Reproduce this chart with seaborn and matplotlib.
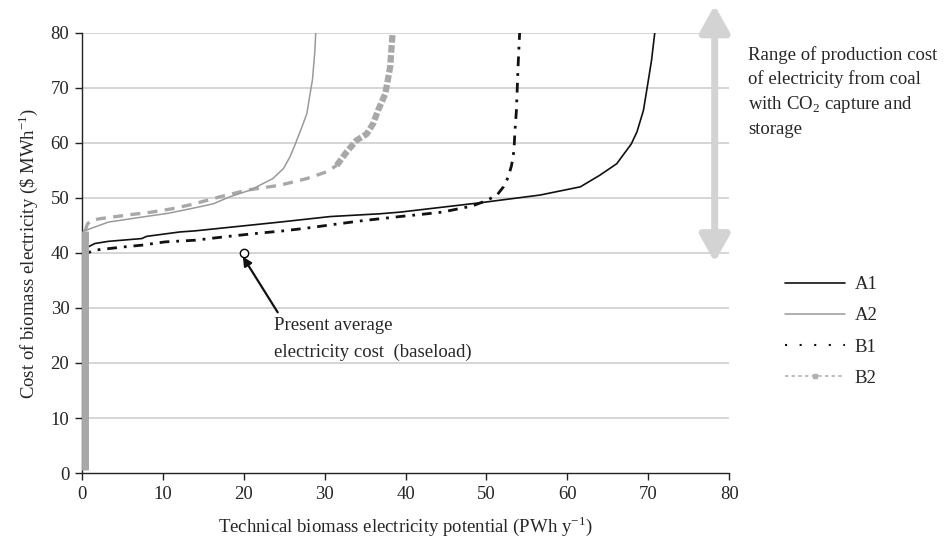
import numpy as np
import seaborn as sns
import matplotlib.pyplot as plt
from matplotlib.lines import Line2D

# supply curves (x: PWh/y, y: $/MWh)
a1_x = [0, 0.3, 0.8, 1.6, 3.3, 7.4, 8.0, 12.1, 14.0, 24.5, 30.7, 36.8, 39.3, 49.2, 51.3,
        56.6, 61.6, 64.0, 66.1, 67.9, 68.6, 69.4, 69.8, 70.4, 70.8]
a1_y = [39.9, 40.5, 41.1, 41.7, 42.1, 42.6, 43.0, 43.8, 44.0, 45.6, 46.6, 47.1, 47.4, 49.1, 49.5,
        50.5, 52.0, 54.1, 56.2, 59.8, 62.0, 65.9, 69.5, 75.0, 80.0]

a2_x = [0, 0.3, 1.6, 3.3, 7.4, 10.7, 14.0, 16.2, 18.3, 20.8, 23.6, 24.9, 25.7, 26.3, 27.2,
        27.8, 28.2, 28.5, 28.8, 28.9]
a2_y = [43.2, 44.0, 44.7, 45.6, 46.5, 47.2, 48.2, 48.9, 50.2, 51.4, 53.5, 55.3, 57.4, 59.5, 62.9,
        65.3, 68.9, 71.5, 76.8, 80.0]

b1_x = [0, 1.6, 5.3, 7.4, 10.3, 14.0, 18.1, 22.0, 24.9, 27.8, 31.3, 34.4, 39.3, 42.0, 44.5,
        48.2, 50.0, 51.3, 52.1, 52.7, 53.1, 53.4, 53.5, 53.7, 53.9, 54.1]
b1_y = [39.6, 40.5, 41.1, 41.4, 42.0, 42.3, 43.0, 43.6, 44.0, 44.5, 45.2, 45.8, 46.6, 47.0, 47.4,
        48.5, 49.5, 50.5, 52.0, 53.8, 55.9, 58.6, 61.7, 65.9, 73.7, 80.0]

b2_x = [0.4, 0.4, 0.7, 1.2, 2.2, 6.3, 8.6, 11.1, 13.6, 17.1, 20.4, 24.5, 27.8, 30.2, 31.5,
        32.7, 33.9, 35.2, 36.0, 36.6, 37.5, 38.1, 38.4]
b2_y = [0.5, 44.0, 45.3, 45.9, 46.2, 47.0, 47.4, 48.0, 48.8, 50.2, 51.4, 52.3, 53.5, 54.7, 55.9,
        58.3, 60.4, 61.6, 63.5, 65.9, 68.9, 73.8, 80.0]

present_cost = (20, 40)
coal_ccs_range = (38.3, 85)

sns.set_style('white')
plt.rcParams['font.family'] = ['Liberation Serif', 'DejaVu Serif']
plt.rcParams['mathtext.fontset'] = 'custom'
plt.rcParams['mathtext.rm'] = 'Liberation Serif'
plt.rcParams['axes.unicode_minus'] = False
plt.rcParams['font.size'] = 13.5

fig = plt.figure(figsize=(9.52, 5.45), dpi=100)
ax = fig.add_axes([0.086, 0.132, 0.68, 0.808])

ax.set_xlim(0, 80)
ax.set_ylim(0, 80)
ax.set_xticks(range(0, 81, 10))
ax.set_yticks(range(0, 81, 10))
for v in range(10, 81, 10):
    ax.axhline(v, color='#d2d2d2', lw=1.3, zorder=0)

grey = '#a8a8a8'
# B2: thick foot, dashed middle, dense band at the top
sns.lineplot(x=b2_x[:2], y=b2_y[:2], ax=ax, sort=False, estimator=None,
             color=grey, linewidth=5, solid_capstyle='butt', clip_on=False, zorder=3)
sns.lineplot(x=b2_x[1:15], y=b2_y[1:15], ax=ax, sort=False, estimator=None,
             color=grey, linewidth=2.4, linestyle=(0, (3, 2.2)))
sns.lineplot(x=b2_x[14:], y=b2_y[14:], ax=ax, sort=False, estimator=None,
             color=grey, linewidth=4.5, linestyle=(0, (1.2, 0.4)))

sns.lineplot(x=a2_x, y=a2_y, ax=ax, sort=False, estimator=None, color='#9a9a9a', linewidth=1.1)
sns.lineplot(x=b1_x, y=b1_y, ax=ax, sort=False, estimator=None, color='#111111', linewidth=2.0,
             linestyle=(0, (3.5, 2.5, 1, 2.5)))
sns.lineplot(x=a1_x, y=a1_y, ax=ax, sort=False, estimator=None, color='#111111', linewidth=1.2)

# present average cost marker and arrow
ax.plot(*present_cost, marker='o', ms=6, mfc='white', mec='black', mew=1.0, zorder=5)
ax.annotate('', xy=(present_cost[0] - 0.1, present_cost[1] - 0.7), xytext=(24.2, 29.2),
            arrowprops=dict(arrowstyle='-|>', color='#111111', lw=1.6, mutation_scale=13,
                            shrinkA=0, shrinkB=0))
ax.text(23.8, 26.8, 'Present average', va='center', ha='left')
ax.text(23.8, 21.9, 'electricity cost  (baseload)', va='center', ha='left')

# coal + CCS cost range arrow
ax.annotate('', xy=(78.2, coal_ccs_range[1]), xytext=(78.2, coal_ccs_range[0]),
            annotation_clip=False,
            arrowprops=dict(arrowstyle='<|-|>,head_length=0.9,head_width=0.5', color='#d3d3d3',
                            lw=5, mutation_scale=18, shrinkA=0, shrinkB=0))
fig.text(748 / 952, 1 - 92 / 545,
         'Range of production cost\nof electricity from coal\nwith CO$_2$ capture and\nstorage',
         ha='left', va='center', linespacing=1.45)

ax.set_xlabel('Technical biomass electricity potential (PWh y$^{\\mathregular{-1}}$)', labelpad=8)
ax.set_ylabel('Cost of biomass electricity (\\$ MWh$^{\\mathregular{-1}}$)', labelpad=8)

for s in ['top', 'right']:
    ax.spines[s].set_visible(False)
for s in ['left', 'bottom']:
    ax.spines[s].set_color('#222222')
    ax.spines[s].set_linewidth(1.0)
ax.tick_params(axis='both', direction='out', length=5, width=1, color='#222222',
               labelsize=13.5, pad=4, left=True, bottom=True)

handles = [
    Line2D([], [], color='#111111', lw=1.2),
    Line2D([], [], color='#9a9a9a', lw=1.1),
    Line2D([], [], color='#111111', lw=1.5, linestyle=(0, (1, 6))),
    Line2D([], [], color='#b0b0b0', lw=1.2, linestyle=(0, (2, 2)), marker='s', ms=3.5),
]
fig.legend(handles, ['A1', 'A2', 'B1', 'B2'], loc='upper left',
           bbox_to_anchor=(785 / 952, 1 - 276 / 545), frameon=False, handlelength=3.2,
           handletextpad=0.5, labelspacing=0.75, borderpad=0, borderaxespad=0, numpoints=1)

fig.savefig('out.png', dpi=100)
